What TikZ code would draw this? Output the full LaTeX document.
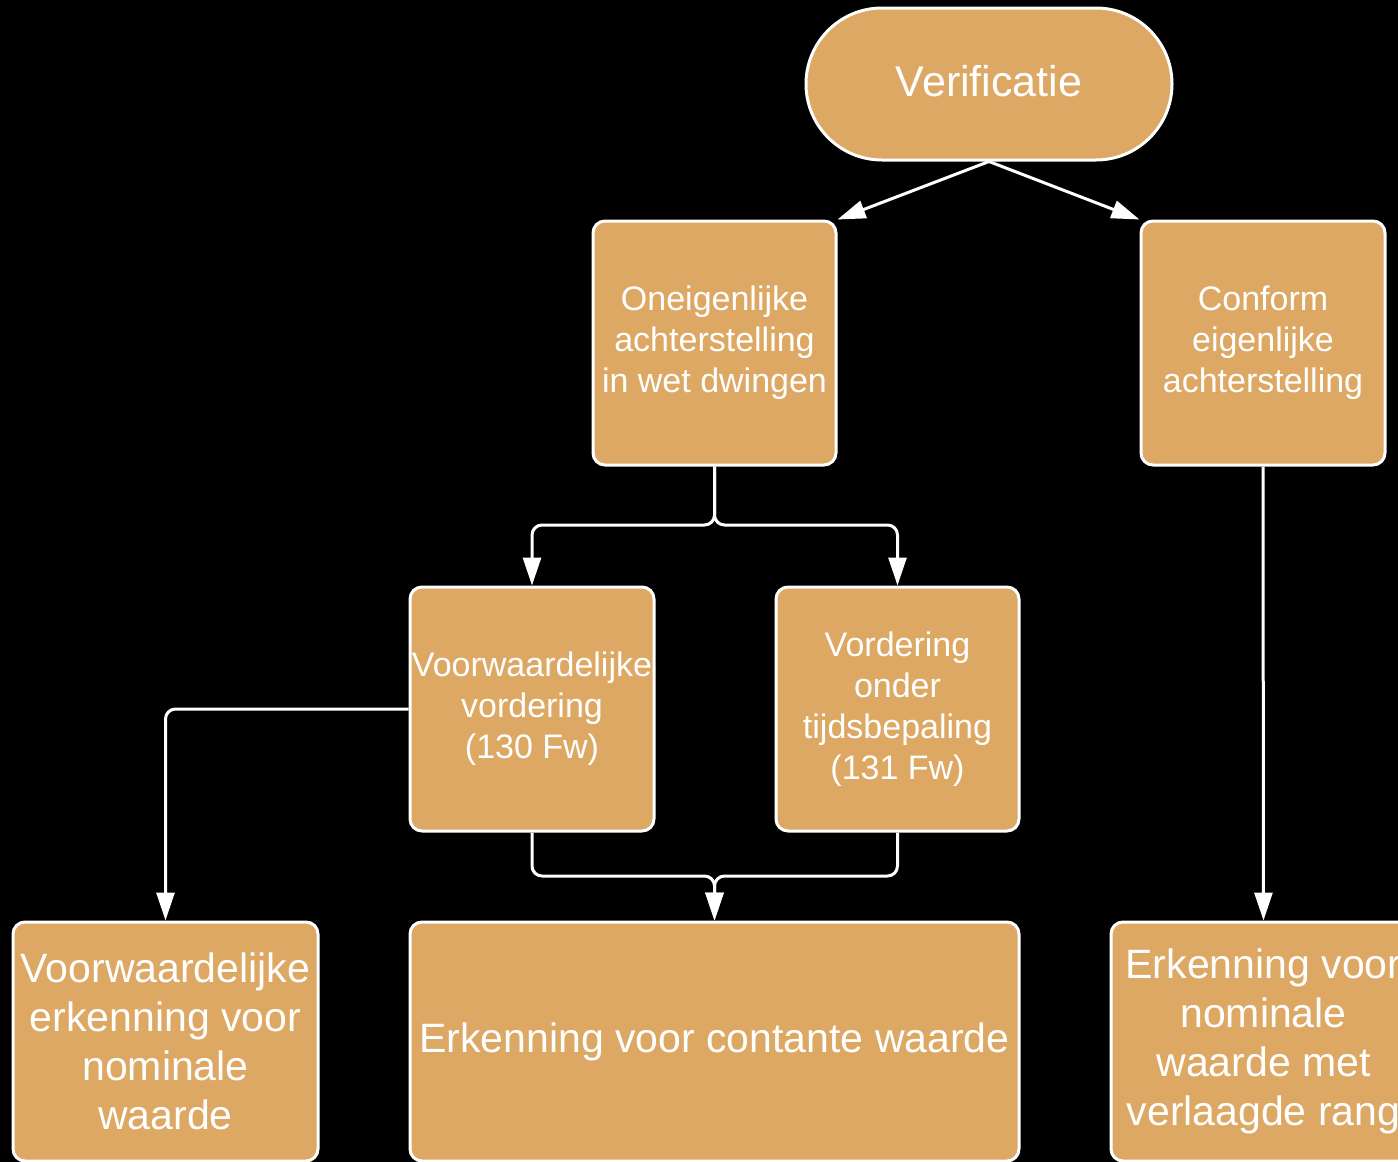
\documentclass[tikz,border=0pt]{standalone}
\usepackage{fontspec}
\setmainfont{Liberation Sans}
\usetikzlibrary{arrows.meta}
\definecolor{boxfill}{HTML}{DCA863}
\tikzset{
  box/.style={draw=white, line width=3pt, fill=boxfill, rounded corners=12pt,
    text=white, align=center, inner sep=0pt,
    font=\fontsize{34}{41}\selectfont},
  bigbox/.style={box, font=\fontsize{41}{49}\selectfont},
  conn/.style={draw=white, line width=3pt, rounded corners=10pt,
    -{Triangle[length=28pt,width=18pt]}},
}
\begin{document}
\begin{tikzpicture}[x=1pt,y=-1pt]
\useasboundingbox (0,0) rectangle (1398,1162);
\fill[black] (0,0) rectangle (1398,1162);
\clip (0,0) rectangle (1398,1162);

\node[box, rounded corners=76pt, minimum width=366pt, minimum height=152pt,
  font=\fontsize{43}{50}\selectfont] (ver) at (989,84) {\raisebox{6pt}{Verificatie}};

\node[box, minimum width=243pt, minimum height=244pt] (one) at (714.5,343)
  {Oneigenlijke\\achterstelling\\in wet dwingen};
\node[box, minimum width=244pt, minimum height=244pt] (conf) at (1263,343)
  {Conform\\eigenlijke\\achterstelling};

\node[box, minimum width=244pt, minimum height=244pt] (vw) at (532,709)
  {Voorwaardelijke\\vordering\\(130 Fw)};
\node[box, minimum width=243pt, minimum height=244pt] (vt) at (897.5,709)
  {Vordering\\onder\\tijdsbepaling\\(131 Fw)};

\node[bigbox, minimum width=305pt, minimum height=239pt] (vwe) at (165.5,1041.5)
  {Voorwaardelijke\\erkenning voor\\nominale\\waarde};
\node[bigbox, minimum width=609pt, minimum height=239pt] (erk) at (714.5,1041.5)
  {Erkenning voor contante waarde};
\node[bigbox, minimum width=305pt, minimum height=239pt] (erkr) at (1263.5,1041.5)
  {Erkenning voor\\nominale\\waarde met\\verlaagde rang};

\coordinate (split) at (714.5,525);
\coordinate (merge) at (714.5,876);

\draw[conn] (ver.south) -- (one.north east);
\draw[conn] (ver.south) -- (conf.north west);
\draw[conn] (one.south) -- (split) -| (vw.north);
\draw[conn] (one.south) -- (split) -| (vt.north);
\draw[conn] (vw.west) -| (vwe.north);
\draw[conn] (vw.south) |- (merge) -- (erk.north);
\draw[conn] (vt.south) |- (merge) -- (erk.north);
\draw[conn] (conf.south) -- (erkr.north);
\end{tikzpicture}
\end{document}
